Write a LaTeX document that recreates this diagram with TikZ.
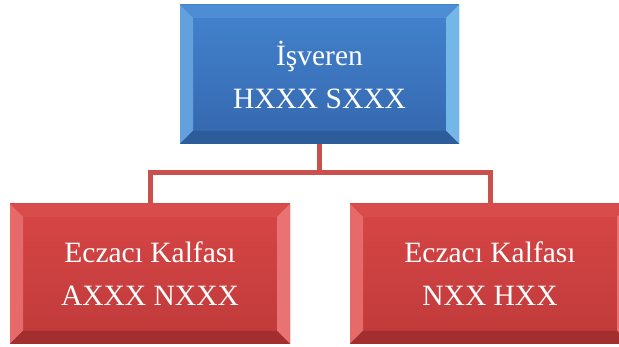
\documentclass[tikz,border=0pt]{standalone}
\usepackage{fontspec}
\setmainfont{Liberation Serif}
\definecolor{btop}{HTML}{4383CE}
\definecolor{bbot}{HTML}{3467AE}
\definecolor{bfacT}{HTML}{4E8CD3}
\definecolor{bfacL}{HTML}{62A0DE}
\definecolor{bfacR}{HTML}{74B6E8}
\definecolor{bfacB}{HTML}{2D5C9A}
\definecolor{rtop}{HTML}{D84646}
\definecolor{rbot}{HTML}{BF3A3A}
\definecolor{rfacT}{HTML}{D84D4B}
\definecolor{rfacL}{HTML}{E66A6A}
\definecolor{rfacR}{HTML}{E97272}
\definecolor{rfacB}{HTML}{A22E2E}
\definecolor{conn}{HTML}{C9504D}
\tikzset{
  bevelbox/.style n args={6}{
    rectangle, minimum width=280pt, minimum height=140pt, inner sep=0pt,
    text=white, align=center,
    font=\fontsize{29.5pt}{43pt}\selectfont,
    path picture={
      \coordinate (NW) at (path picture bounding box.north west);
      \coordinate (NE) at (path picture bounding box.north east);
      \coordinate (SW) at (path picture bounding box.south west);
      \coordinate (SE) at (path picture bounding box.south east);
      \shade[top color=#1, bottom color=#2] (NW) rectangle (SE);
      \fill[#3] (NW) -- (NE) -- ([shift={(-13pt,-13pt)}]NE) -- ([shift={(13pt,-13pt)}]NW) -- cycle;
      \fill[#4] (NW) -- ([shift={(13pt,-13pt)}]NW) -- ([shift={(13pt,13pt)}]SW) -- (SW) -- cycle;
      \fill[#5] (NE) -- ([shift={(-13pt,-13pt)}]NE) -- ([shift={(-13pt,13pt)}]SE) -- (SE) -- cycle;
      \fill[#6] (SW) -- ([shift={(13pt,13pt)}]SW) -- ([shift={(-13pt,13pt)}]SE) -- (SE) -- cycle;
    }
  },
  bluebox/.style={bevelbox={btop}{bbot}{bfacT}{bfacL}{bfacR}{bfacB}},
  redbox/.style={bevelbox={rtop}{rbot}{rfacT}{rfacL}{rfacR}{rfacB}},
  connector/.style={draw=conn, line width=5pt}
}
\begin{document}
\begin{tikzpicture}
\useasboundingbox (0pt,0pt) rectangle (619pt,347pt);
\begin{scope}
\clip (0pt,0pt) rectangle (619pt,347pt);
\coordinate (j) at (319.5pt,174pt);
\node[redbox] (l) at (150pt,73pt) {Eczacı Kalfası\\AXXX NXXX};
\node[redbox] (r) at (490pt,73pt) {Eczacı Kalfası\\NXX HXX};
\node[bluebox, minimum width=279pt, minimum height=139pt] (t) at (319.5pt,272.5pt) {İşveren\\HXXX SXXX};
\draw[connector] (t.south) -- (j) -| (l.north);
\draw[connector] (j) -| (r.north);
\end{scope}
\end{tikzpicture}
\end{document}
